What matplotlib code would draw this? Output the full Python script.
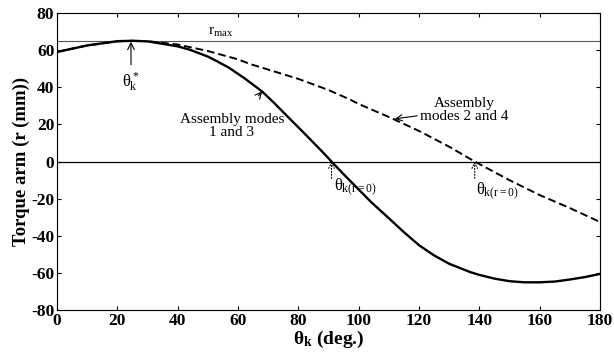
import matplotlib
matplotlib.use("Agg")
import matplotlib.pyplot as plt
import numpy as np

plt.rcParams['font.family'] = ['Liberation Serif', 'DejaVu Serif']
plt.rcParams['mathtext.fontset'] = 'custom'
plt.rcParams['mathtext.rm'] = 'Liberation Serif'
plt.rcParams['mathtext.it'] = 'Liberation Serif'
plt.rcParams['mathtext.bf'] = 'Liberation Serif:bold'
plt.rcParams['axes.unicode_minus'] = False

# Data
theta_13 = [0, 10, 20, 25, 30, 40, 44, 50, 53, 57, 62, 68, 72, 77, 81, 85, 88, 91, 95, 100,
            104, 110, 115, 120, 125, 130, 137, 140, 145, 150, 155, 160, 165, 170, 175, 180]
r_13 = [59, 62.5, 64.8, 65, 64.7, 62, 60.2, 56.5, 54, 50.5, 45, 37.7, 31.5, 23.3, 16.8, 10.2, 5.2, 0, -6.8, -15,
        -21.6, -30.5, -38, -45, -50.5, -55, -59.5, -61, -63, -64.4, -65, -65, -64.6, -63.5, -62.2, -60.5]
theta_24 = [0, 10, 20, 25, 30, 40, 50, 60, 64, 70, 80, 90, 97, 100, 110, 120, 130, 138.5, 150, 160, 170, 180]
r_24 = [59, 62.5, 64.7, 65, 64.8, 63, 59.5, 55, 52.5, 49.5, 44.5, 38.5, 33.5, 31, 24, 16.5, 8, 0, -10, -18, -25, -32.5]
r_max = 65
xticks = list(range(0, 181, 20))
yticks = list(range(-80, 81, 20))

fig = plt.figure(figsize=(6.14, 3.59), dpi=100)
ax = fig.add_axes([0.093, 0.136, 0.884, 0.828])

ax.axhline(r_max, color='#555555', lw=0.8)
ax.axhline(0, color='black', lw=0.9)
ax.plot(theta_13, r_13, color='black', lw=1.7)
ax.plot(theta_24, r_24, color='black', lw=1.4, ls=(0, (4, 2)))

ax.set_xlim(0, 180)
ax.set_ylim(-80, 80)
ax.set_xticks(xticks)
ax.set_yticks(yticks)
ax.tick_params(direction='in', length=3, labelsize=12.5, pad=2, top=True, right=True)
for lab in ax.get_xticklabels() + ax.get_yticklabels():
    lab.set_fontweight('bold')
for s in ax.spines.values():
    s.set_linewidth(0.8)
    s.set_linestyle((0, (1, 0.5)))

ax.set_xlabel(r'$\mathbf{\theta_k}$ (deg.)', fontsize=14, fontweight='bold', labelpad=0)
ax.set_ylabel('Torque arm (r (mm))', fontsize=13.5, fontweight='bold', labelpad=1)

fs = 11
ax.text(50, 66, r'r$_{\rm max}$', fontsize=fs, ha='left', va='bottom')
ax.annotate(r'$\theta_k^*$', xy=(24.5, 64.5), xytext=(24.5, 43), fontsize=fs + 1, ha='center', va='center',
            arrowprops=dict(arrowstyle='->', color='black', lw=0.8, shrinkB=0))
ax.annotate('Assembly modes\n1 and 3', xy=(68, 37.7), xytext=(58, 19), fontsize=fs, ha='center', va='center',
            linespacing=1.0, arrowprops=dict(arrowstyle='->', color='black', lw=0.8, shrinkB=0, shrinkA=14))
ax.annotate('Assembly\nmodes 2 and 4', xy=(112, 23), xytext=(135, 28), fontsize=fs, ha='center', va='center',
            linespacing=1.0, arrowprops=dict(arrowstyle='->', color='black', lw=0.8, shrinkB=0, shrinkA=38))
ax.annotate('', xy=(91, 0), xytext=(91, -9),
            arrowprops=dict(arrowstyle='->', color='black', lw=0.8, ls=':', shrinkA=0, shrinkB=0))
ax.annotate('', xy=(138.5, 0), xytext=(138.5, -9),
            arrowprops=dict(arrowstyle='->', color='black', lw=0.8, ls=':', shrinkA=0, shrinkB=0))
ax.text(99, -14, r'$\theta_{k(r=0)}$', fontsize=fs + 1, ha='center', va='center')
ax.text(146, -16, r'$\theta_{k(r=0)}$', fontsize=fs + 1, ha='center', va='center')

fig.savefig('out.png', dpi=100)
